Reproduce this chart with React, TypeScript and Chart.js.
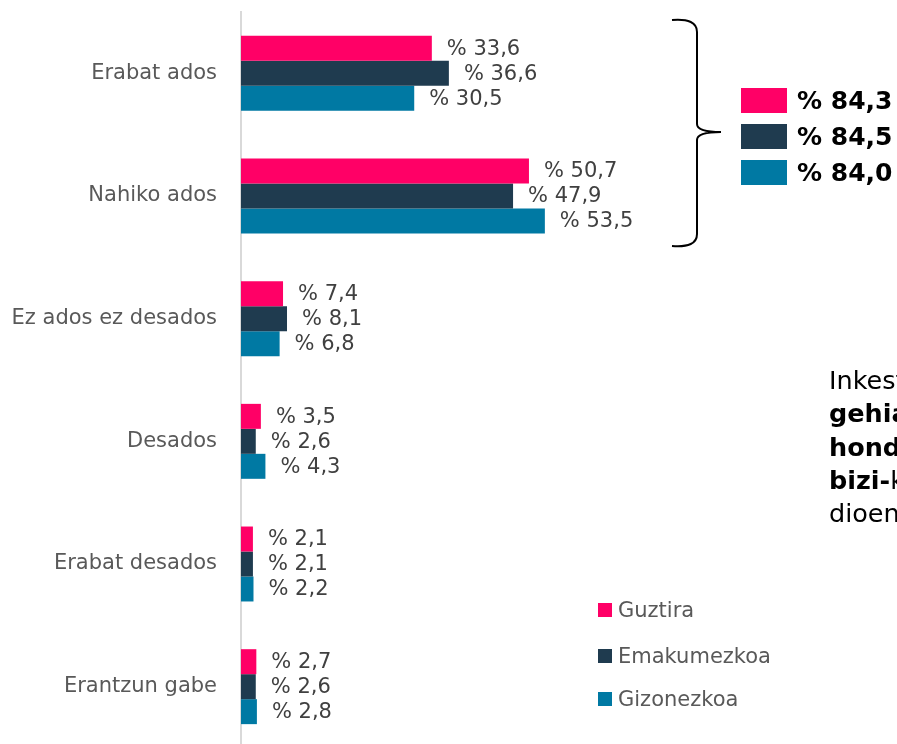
import React, { useEffect, useRef } from "react";
import { Chart, registerables } from "chart.js";

Chart.register(...registerables);

const categories = ["Erabat ados", "Nahiko ados", "Ez ados ez desados", "Desados", "Erabat desados", "Erantzun gabe"];
const seriesNames = ["Guztira", "Emakumezkoa", "Gizonezkoa"];
const guztira = [33.6, 50.7, 7.4, 3.5, 2.1, 2.7];
const emakumezkoa = [36.6, 47.9, 8.1, 2.6, 2.1, 2.6];
const gizonezkoa = [30.5, 53.5, 6.8, 4.3, 2.2, 2.8];
const adosTotals = [84.3, 84.5, 84.0];
const colors = ["#FF0066", "#1F3B4F", "#0079A3"];

const FONT = "'DejaVu Sans', Verdana, sans-serif";
const fmt = (v: number) => "% " + v.toFixed(1).replace(".", ",");

const labelPlugin = {
  id: "barLabels",
  afterDatasetsDraw(chart: any) {
    const ctx = chart.ctx;
    ctx.save();
    ctx.font = `21px ${FONT}`;
    ctx.fillStyle = "#404040";
    ctx.textAlign = "left";
    ctx.textBaseline = "middle";
    chart.data.datasets.forEach((ds: any, di: number) => {
      const meta = chart.getDatasetMeta(di);
      meta.data.forEach((bar: any, i: number) => {
        ctx.fillText(fmt(ds.data[i]), bar.x + 15, bar.y + 1);
      });
    });
    ctx.restore();
  },
};

export default function App() {
  const ref = useRef<HTMLCanvasElement>(null);
  useEffect(() => {
    if (!ref.current) return;
    const chart = new Chart(ref.current, {
      type: "bar",
      data: {
        labels: categories,
        datasets: [guztira, emakumezkoa, gizonezkoa].map((d, i) => ({
          label: seriesNames[i],
          data: d,
          backgroundColor: colors[i],
          categoryPercentage: 0.611,
          barPercentage: 1,
        })),
      },
      options: {
        indexAxis: "y",
        animation: false,
        responsive: false,
        maintainAspectRatio: false,
        layout: { padding: { top: 12, bottom: 12, left: 0, right: 0 } },
        plugins: { legend: { display: false }, tooltip: { enabled: false } },
        scales: {
          x: { display: false, min: 0, max: 115.5 },
          y: {
            afterFit: (s: any) => {
              s.width = 241;
              s.paddingTop = 0;
              s.paddingBottom = 0;
            },
            grid: { display: false, drawTicks: false },
            border: { display: true, color: "#D9D9D9", width: 2 },
            ticks: { color: "#595959", font: { family: FONT, size: 21 }, padding: 24 },
          },
        },
      },
      plugins: [labelPlugin],
    });
    return () => chart.destroy();
  }, []);

  const boxTops = [88, 124, 160];
  const legendTops = [602, 648, 691];
  return (
    <div style={{ position: "fixed", left: 0, top: 0, width: 897, height: 744, overflow: "hidden", background: "#fff", fontFamily: FONT }}>
      <canvas ref={ref} width={897} height={760} style={{ position: "absolute", left: 0, top: 0, width: 897, height: 760 }} />
      <svg width={897} height={744} style={{ position: "absolute", left: 0, top: 0 }}>
        <path
          d="M672 20 Q697 18 697 32 L697 124 Q697 132 721 132 Q697 132 697 140 L697 234 Q697 248 672 246"
          fill="none"
          stroke="#000"
          strokeWidth={2}
        />
      </svg>
      {adosTotals.map((v, i) => (
        <div key={i} style={{ position: "absolute", left: 741, top: boxTops[i], height: 25, display: "flex", alignItems: "center", whiteSpace: "nowrap" }}>
          <div style={{ width: 46, height: 25, background: colors[i] }} />
          <span style={{ marginLeft: 10, fontWeight: "bold", fontSize: 25, color: "#000" }}>{fmt(v)}</span>
        </div>
      ))}
      <div style={{ position: "absolute", left: 829, top: 364, fontSize: 25.5, lineHeight: "33.3px", color: "#000", whiteSpace: "nowrap" }}>
        <div>Inkestatuen</div>
        <div><b>gehiagok</b></div>
        <div><b>hondakinen</b></div>
        <div><b>bizi-</b>kalitatea</div>
        <div>dioena</div>
      </div>
      {seriesNames.map((n, i) => (
        <div key={n} style={{ position: "absolute", left: 598, top: legendTops[i], height: 16, display: "flex", alignItems: "center", whiteSpace: "nowrap" }}>
          <div style={{ width: 14, height: 14, background: colors[i] }} />
          <span style={{ marginLeft: 6, fontSize: 21, color: "#595959" }}>{n}</span>
        </div>
      ))}
    </div>
  );
}
